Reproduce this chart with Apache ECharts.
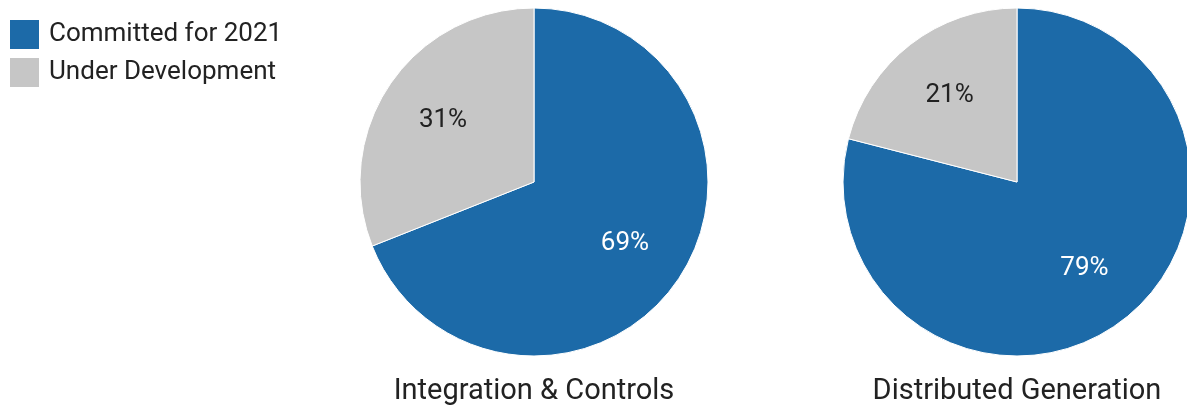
<!DOCTYPE html>
<html>
<head>
<meta charset="utf-8">
<style>
  html, body { margin: 0; padding: 0; background: #ffffff; }
  #chart { width: 1187px; height: 409px; }
</style>
<script src="https://cdn.jsdelivr.net/npm/echarts@6/dist/echarts.min.js"></script>
</head>
<body>
<div id="chart"></div>
<script>
// Share of projects by status, per program area
const statuses = ['Committed for 2021', 'Under Development'];
const panels = ['Integration & Controls', 'Distributed Generation'];
const integrationValues = [69, 31];
const distributedValues = [79, 21];

const colors = ['#1c6aa8', '#c6c6c6'];
const labelColors = ['#ffffff', '#222222'];
const font = 'Roboto, "Noto Sans", sans-serif';

const panelValues = [integrationValues, distributedValues];
const centers = [[534, 182], [1017, 182]];
const radius = 174;

const series = [];
panelValues.forEach((vals, p) => {
  const data = statuses.map((s, i) => ({ name: s, value: vals[i] }));
  // filled wedges
  series.push({
    type: 'pie',
    center: centers[p],
    radius: radius,
    startAngle: 90,
    clockwise: true,
    silent: true,
    data: data,
    itemStyle: {
      color: (params) => colors[params.dataIndex],
      borderColor: '#ffffff',
      borderWidth: 1
    },
    label: { show: false },
    labelLine: { show: false }
  });
  // transparent ring that places the percentage labels further out
  series.push({
    type: 'pie',
    center: centers[p],
    radius: [40, radius],
    startAngle: 90,
    clockwise: true,
    silent: true,
    data: data.map((d, i) => ({
      ...d,
      label: { color: labelColors[i] }
    })),
    itemStyle: { color: 'rgba(0,0,0,0)' },
    label: {
      show: true,
      position: 'inside',
      formatter: '{c}%',
      fontFamily: font,
      fontSize: 26
    },
    labelLine: { show: false }
  });
});

const chart = echarts.init(document.getElementById('chart'), null, { renderer: 'canvas' });
chart.setOption({
  animation: false,
  color: colors,
  legend: {
    left: 8,
    top: 18,
    orient: 'vertical',
    data: statuses,
    icon: 'rect',
    itemWidth: 31,
    itemHeight: 31,
    itemGap: 5,
    padding: 0,
    selectedMode: false,
    textStyle: {
      fontFamily: font,
      fontSize: 26,
      lineHeight: 31,
      color: '#222222',
      padding: [0, 0, 0, 4]
    }
  },
  graphic: panels.map((t, p) => ({
    type: 'text',
    x: centers[p][0],
    y: 392,
    style: {
      text: t,
      fontFamily: font,
      fontSize: 29,
      fill: '#222222',
      textAlign: 'center',
      textVerticalAlign: 'middle'
    }
  })),
  series: series
});
</script>
</body>
</html>
